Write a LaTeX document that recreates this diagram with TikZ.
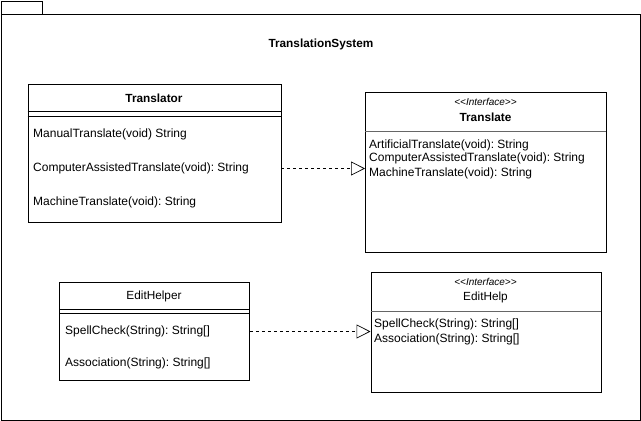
\documentclass[tikz,border=0pt]{standalone}
\usepackage{fontspec}
\setmainfont{Liberation Sans}[Ligatures=NoCommon]
\usetikzlibrary{arrows.meta}
\frenchspacing
\begin{document}
\begin{tikzpicture}[x=1pt,y=-1pt,
  box/.style={draw,line width=0.9pt,anchor=north west,inner sep=0pt},
  sep/.style={line width=0.8pt},
  thin sep/.style={line width=0.5pt,draw=black!60},
  member/.style={anchor=west,inner sep=0pt,font=\frenchspacing\fontsize{12}{13}\selectfont},
  ttl/.style={inner sep=0pt,font=\bfseries\fontsize{11.8}{13}\selectfont},
  ttlr/.style={inner sep=0pt,font=\fontsize{11.8}{13}\selectfont},
  stereo/.style={inner sep=0pt,font=\itshape\fontsize{10}{11}\selectfont},
  real/.style={dashed,line width=0.7pt,-{Triangle[open,length=14pt,width=14pt]}}]
\useasboundingbox (0,0) rectangle (641,421);
% package
\node[box,minimum width=41pt,minimum height=13pt] (tab) at (1,1) {};
\node[box,minimum width=639pt,minimum height=406pt] (pkg) at (1,14) {};
\node[ttl] (pkgname) at (321,44) {TranslationSystem};
% Translator
\node[box,minimum width=253pt,minimum height=138pt] (translator) at (27.5,84) {};
\draw[sep] (27.5,111) -- (280.5,111);
\draw[sep] (27.5,116) -- (280.5,116);
\node[ttl] (translatorname) at (154,98) {Translator};
\node[member] (t1) at (33,134) {ManualTranslate(void) String};
\node[member] (t2) at (33,168.5) {ComputerAssistedTranslate(void): String};
\node[member] (t3) at (33,202.5) {MachineTranslate(void): String};
% Translate interface
\node[box,minimum width=241pt,minimum height=160pt] (translate) at (365,92) {};
\draw[thin sep] (365,131) -- (606,131);
\node[stereo] (ts) at (485.5,102) {{<}{<}\textit{Interface}{>}{>}};
\node[ttl] (tn) at (485.5,117) {Translate};
\node[member] (i1) at (369,145) {ArtificialTranslate(void): String};
\node[member] (i2) at (369,158.5) {ComputerAssistedTranslate(void): String};
\node[member] (i3) at (369,173) {MachineTranslate(void): String};
% EditHelper
\node[box,minimum width=190pt,minimum height=98pt] (edithelper) at (59,282) {};
\draw[sep] (59,309) -- (249,309);
\draw[sep] (59,313.5) -- (249,313.5);
\node[ttlr] (ehn) at (154,296) {EditHelper};
\node[member] (e1) at (65,331.5) {SpellCheck(String): String[]};
\node[member] (e2) at (65,363.5) {Association(String): String[]};
% EditHelp interface
\node[box,minimum width=230pt,minimum height=120pt] (edithelp) at (370.5,272) {};
\draw[thin sep] (370.5,311) -- (600.5,311);
\node[stereo] (es) at (485.5,282) {{<}{<}\textit{Interface}{>}{>}};
\node[ttlr] (en) at (485.5,297) {EditHelp};
\node[member] (h1) at (374,324.5) {SpellCheck(String): String[]};
\node[member] (h2) at (374,339) {Association(String): String[]};
% realizations
\draw[real] (translator.east |- t2) -- (translate.west |- t2);
\draw[real] (edithelper.east |- e1) -- (edithelp.west |- e1);
\end{tikzpicture}
\end{document}
